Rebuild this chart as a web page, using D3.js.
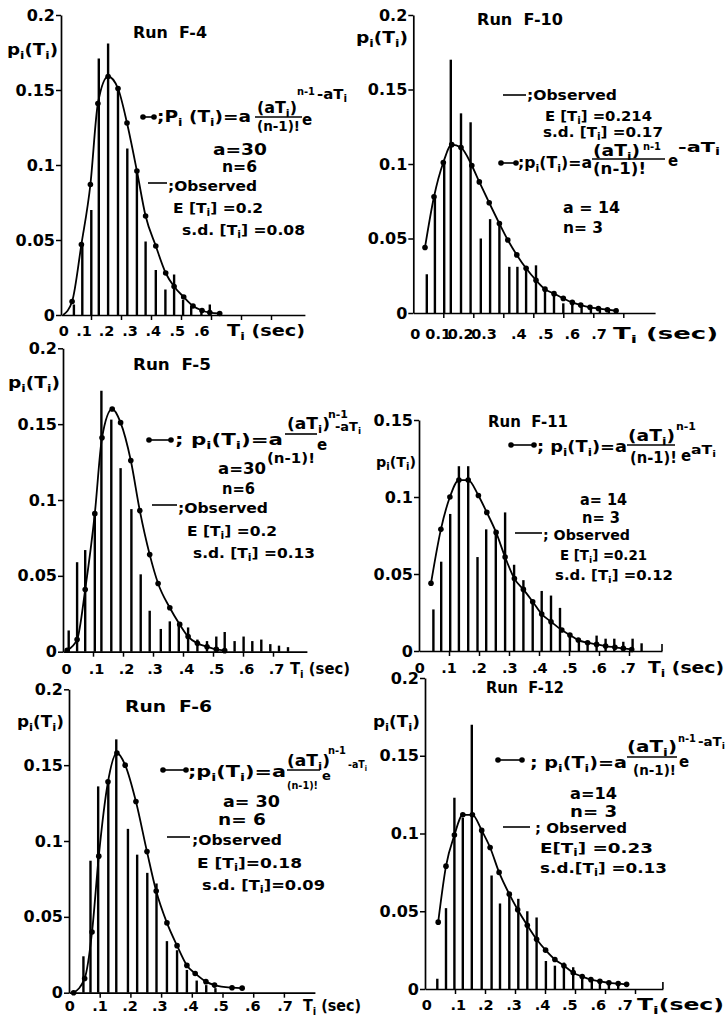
<!DOCTYPE html>
<html><head><meta charset="utf-8">
<script src="https://cdn.jsdelivr.net/npm/d3@7"></script>
<style>body{margin:0;background:#fff}svg{display:block}text{white-space:pre}</style>
</head><body><svg id="c" width="727" height="1019"></svg>
<script>
// ---------------- DATA ----------------
// Run F-4
const f4BarT = [0.043,0.071,0.101,0.126,0.157,0.19,0.221,0.253,0.282,0.316,0.348,0.377,0.407,0.434,0.468,0.496];
const f4BarP = [0.007,0.047,0.07,0.171,0.181,0.152,0.111,0.095,0.049,0.03,0.017,0.027,0.01,0.006,0.004,0.007];
const f4CurveT = [0.007,0.037,0.068,0.098,0.123,0.157,0.19,0.22,0.253,0.282,0.316,0.349,0.377,0.409,0.44,0.47,0.496,0.529];
const f4CurveP = [0,0.009,0.047,0.087,0.141,0.159,0.151,0.128,0.096,0.066,0.046,0.028,0.019,0.012,0.006,0.003,0.0016,0.001];
const f4Labels = ["0",".1",".2",".3",".4",".5",".6"];
const f4LabelT = [0.009,0.077,0.152,0.23,0.308,0.388,0.469];

// Run F-10
const f10BarT = [0.045,0.072,0.103,0.125,0.159,0.191,0.225,0.256,0.287,0.32,0.347,0.376,0.409,0.439,0.469,0.5,0.53,0.561,0.592,0.622,0.652,0.678];
const f10BarP = [0.026,0.078,0.1,0.17,0.134,0.128,0.05,0.063,0.06,0.031,0.031,0.03,0.032,0.016,0.013,0.0065,0.0075,0.005,0.004,0.004,0.003,0.003];
const f10CurveT = [0.039,0.069,0.1,0.128,0.159,0.195,0.22,0.253,0.287,0.315,0.345,0.376,0.409,0.439,0.469,0.5,0.53,0.558,0.589,0.617,0.647,0.676];
const f10CurveP = [0.044,0.078,0.101,0.113,0.111,0.099,0.088,0.074,0.06,0.049,0.039,0.03,0.022,0.016,0.013,0.0098,0.0071,0.0053,0.0038,0.003,0.0022,0.0015];
const f10Labels = ["0","0.1","0.2","0.3",".4",".5",".6",".7"];
const f10LabelT = [0.007,0.083,0.158,0.236,0.352,0.442,0.53,0.619];

// Run F-5
const f5BarT = [0.019,0.047,0.074,0.106,0.128,0.161,0.192,0.228,0.259,0.289,0.326,0.356,0.386,0.417,0.448,0.48,0.511,0.539,0.572,0.602,0.631,0.661,0.691,0.72,0.75];
const f5BarP = [0.014,0.059,0.067,0.091,0.172,0.153,0.121,0.094,0.051,0.027,0.015,0.02,0.018,0.016,0.008,0.007,0.01,0.013,0.007,0.01,0.007,0.008,0.005,0.004,0.003];
const f5CurveT = [0.014,0.047,0.074,0.106,0.13,0.164,0.192,0.226,0.256,0.289,0.317,0.356,0.389,0.417,0.448,0.48,0.511,0.539];
const f5CurveP = [0.001,0.008,0.041,0.091,0.141,0.16,0.151,0.126,0.093,0.064,0.045,0.029,0.018,0.01,0.0055,0.0033,0.0015,0.0007];
const f5Labels = ["0",".1",".2",".3",".4",".5",".6",".7"];
const f5LabelT = [0.012,0.112,0.212,0.307,0.412,0.512,0.612,0.712];

// Run F-11
const f11BarT = [0.048,0.074,0.104,0.133,0.164,0.195,0.224,0.256,0.287,0.317,0.348,0.379,0.409,0.44,0.47,0.503,0.533,0.562,0.592,0.622,0.651,0.681,0.712,0.742];
const f11BarP = [0.027,0.058,0.089,0.12,0.12,0.061,0.079,0.076,0.09,0.056,0.046,0.031,0.039,0.036,0.028,0.01,0.008,0.006,0.01,0.008,0.008,0.006,0.008,0.005];
const f11CurveT = [0.04,0.073,0.103,0.133,0.164,0.198,0.226,0.257,0.287,0.318,0.348,0.379,0.409,0.44,0.476,0.503,0.531,0.562,0.592,0.622,0.653,0.681,0.709];
const f11CurveP = [0.044,0.079,0.1,0.111,0.111,0.101,0.09,0.077,0.061,0.047,0.04,0.032,0.024,0.019,0.0136,0.0104,0.0071,0.0054,0.0043,0.0032,0.0024,0.0017,0.001];
const f11Labels = ["0",".1",".2",".3",".4",".5",".6",".7"];
const f11LabelT = [0.003,0.1,0.2,0.303,0.403,0.503,0.6,0.697];

// Run F-6
const f6BarT = [0.047,0.07,0.095,0.128,0.154,0.192,0.222,0.255,0.285,0.319,0.352,0.384,0.416,0.447,0.477];
const f6BarP = [0.024,0.087,0.136,0.14,0.167,0.108,0.091,0.079,0.072,0.034,0.028,0.015,0.008,0.005,0.003];
const f6CurveT = [0.015,0.051,0.075,0.097,0.127,0.156,0.183,0.218,0.254,0.284,0.319,0.352,0.384,0.411,0.446,0.474,0.531,0.564];
const f6CurveP = [0,0.0094,0.04,0.09,0.139,0.158,0.15,0.126,0.093,0.067,0.046,0.031,0.018,0.0127,0.0073,0.005,0.0033,0.003];
const f6Labels = ["0",".1",".2",".3",".4",".5",".6",".7"];
const f6LabelT = [0.003,0.101,0.199,0.296,0.397,0.495,0.599,0.704];

// Run F-12
const f12BarT = [0.041,0.07,0.098,0.126,0.156,0.189,0.222,0.25,0.281,0.311,0.341,0.372,0.403,0.433,0.463,0.494,0.524,0.556,0.583,0.613,0.644];
const f12BarP = [0.0066,0.052,0.123,0.11,0.17,0.102,0.073,0.055,0.06,0.058,0.05,0.046,0.018,0.015,0.017,0.014,0.008,0.006,0.005,0.004,0.003];
const f12CurveT = [0.044,0.07,0.098,0.126,0.158,0.189,0.217,0.247,0.281,0.309,0.341,0.372,0.402,0.433,0.463,0.494,0.524,0.553,0.583,0.613,0.644,0.672];
const f12CurveP = [0.043,0.079,0.099,0.112,0.112,0.102,0.091,0.075,0.061,0.051,0.041,0.032,0.025,0.019,0.015,0.0105,0.008,0.006,0.005,0.004,0.0035,0.003];
const f12Labels = ["0",".1",".2",".3",".4",".5",".6",".7"];
const f12LabelT = [0.006,0.111,0.203,0.297,0.392,0.483,0.578,0.667];

const yTickVals = [0,0.05,0.1,0.15,0.2];
const yTickText = {"0":"0","0.05":"0.05","0.1":"0.1","0.15":"0.15","0.2":"0.2"};
const xTickVals = [0.1,0.2,0.3,0.4,0.5,0.6,0.7];

// ---------------- LAYOUT ----------------
const FONT = "'DejaVu Sans', Verdana, sans-serif";
const panels = [
 {x0:61, pps:300, xEnd:0.813, yZero:315, yTopPx:15, yTop:0.2, endTick:false,
  barT:f4BarT, barP:f4BarP, cT:f4CurveT, cP:f4CurveP, dotFrom:1, lab:f4Labels, labT:f4LabelT, labY:336,
  ann:[
   {t:"Run  F-4",x:133,y:38,s:15,w:74},
   {t:"p_i(T_i)",x:7,y:55,s:16,w:51},
   {m:[143,154,117]},
   {t:";P_i (T_i)=a",x:157,y:122,s:16,w:94},
   {t:"(aT_i)",x:257,y:113,s:15,w:40},
   {l:[255,302,117]},
   {t:"(n-1)!",x:257,y:131,s:14,w:43},
   {t:"e",x:302,y:125,s:15},
   {t:"n-1",x:297,y:95,s:11,w:18},
   {t:"-aT_i",x:317,y:99,s:14,w:30},
   {t:"a=30",x:213,y:155,s:15,w:54},
   {t:"n=6",x:222,y:172,s:15,w:35},
   {l:[148,167,183]},
   {t:";Observed",x:168,y:191,s:14.5,w:89},
   {t:"E [T_i] =0.2",x:173,y:213,s:14.5,w:90},
   {t:"s.d. [T_i] =0.08",x:182,y:235,s:14.5,w:123},
   {t:"T_i (sec)",x:227,y:336,s:16,w:78}
  ]},
 {x0:413.3, pps:300, xEnd:0.806, yZero:313, yTopPx:15, yTop:0.2, endTick:false,
  barT:f10BarT, barP:f10BarP, cT:f10CurveT, cP:f10CurveP, dotFrom:0, lab:f10Labels, labT:f10LabelT, labY:339,
  ann:[
   {t:"Run  F-10",x:477,y:25,s:15,w:86},
   {t:"p_i(T_i)",x:356,y:43,s:16,w:52},
   {l:[503,526,95]},
   {t:";Observed",x:527,y:100,s:14.5,w:90},
   {t:"E [T_i] =0.214",x:545,y:121,s:14.5,w:107},
   {t:"s.d. [T_i] =0.17",x:543,y:137,s:14,w:120},
   {m:[501,516,163]},
   {t:";p_i(T_i)=a",x:518,y:168,s:15,w:74},
   {t:"(aT_i)",x:593,y:156,s:15,w:47},
   {t:"n-1",x:643,y:150,s:10,w:18},
   {l:[592,665,159]},
   {t:"(n-1)!",x:593,y:174,s:15,w:53},
   {t:"e",x:668,y:166,s:15},
   {t:"-aT_i",x:678,y:152,s:14,w:42},
   {t:"a = 14",x:563,y:213,s:15,w:57},
   {t:"n= 3",x:563,y:233,s:15,w:40},
   {t:"T_i (sec)",x:613,y:339,s:16,w:105}
  ]},
 {x0:63, pps:300, xEnd:0.813, yZero:651.7, yTopPx:348.3, yTop:0.2, endTick:false,
  barT:f5BarT, barP:f5BarP, cT:f5CurveT, cP:f5CurveP, dotFrom:0, lab:f5Labels, labT:f5LabelT, labY:674,
  ann:[
   {t:"Run  F-5",x:133,y:370,s:15,w:78},
   {t:"p_i(T_i)",x:8,y:388,s:16,w:52},
   {m:[149,171,440]},
   {t:"; p_i(T_i)=a",x:175,y:445,s:15,w:108},
   {t:"(aT_i)",x:287,y:429,s:15,w:43},
   {t:"n-1",x:328,y:418,s:11,w:20},
   {t:"-aT_i",x:335,y:431,s:13,w:26},
   {l:[285,317,434]},
   {t:"e",x:317,y:450,s:15},
   {t:"(n-1)!",x:267,y:463,s:14,w:48},
   {t:"a=30",x:218,y:474,s:15,w:48},
   {t:"n=6",x:222,y:494,s:15,w:33},
   {l:[152,177,505]},
   {t:";Observed",x:178,y:513,s:14.5,w:90},
   {t:"E [T_i] =0.2",x:187,y:536,s:14.5,w:90},
   {t:"s.d. [T_i] =0.13",x:193,y:558,s:14.5,w:122},
   {t:"T_i (sec)",x:290,y:674,s:16,w:60}
  ]},
 {x0:419, pps:300, xEnd:0.81, yZero:651, yTopPx:420, yTop:0.15, endTick:true,
  barT:f11BarT, barP:f11BarP, cT:f11CurveT, cP:f11CurveP, dotFrom:0, lab:f11Labels, labT:f11LabelT, labY:673,
  ann:[
   {t:"Run  F-11",x:488,y:427,s:15,w:80},
   {t:"p_i(T_i)",x:376,y:467,s:14,w:40},
   {m:[511,534,445]},
   {t:"; p_i(T_i)=a",x:537,y:452,s:15,w:90},
   {t:"(aT_i)",x:628,y:441,s:15,w:47},
   {t:"n-1",x:676,y:430,s:11,w:20},
   {l:[627,675,445]},
   {t:"(n-1)!",x:630,y:463,s:15,w:47},
   {t:"e",x:681,y:461,s:15},
   {t:"aT_i",x:691,y:454,s:13,w:25},
   {t:"a= 14",x:580,y:505,s:15,w:47},
   {t:"n= 3",x:582,y:523,s:15,w:38},
   {l:[515,542,533]},
   {t:"; Observed",x:543,y:540,s:14,w:87},
   {t:"E [T_i] =0.21",x:560,y:560,s:13.5,w:87},
   {t:"s.d. [T_i] =0.12",x:555,y:580,s:13.5,w:118},
   {t:"T_i (sec)",x:648,y:673,s:16,w:76}
  ]},
 {x0:69, pps:307, xEnd:0.801, yZero:992.7, yTopPx:689.3, yTop:0.2, endTick:false,
  barT:f6BarT, barP:f6BarP, cT:f6CurveT, cP:f6CurveP, dotFrom:0, lab:f6Labels, labT:f6LabelT, labY:1011,
  ann:[
   {t:"Run  F-6",x:125,y:712,s:15,w:87},
   {t:"p_i(T_i)",x:17,y:727,s:16,w:47},
   {m:[163,186,770]},
   {t:";p_i(T_i)=a",x:188,y:777,s:15,w:98},
   {t:"(aT_i)",x:287,y:766,s:15,w:43},
   {t:"n-1",x:328,y:754,s:10,w:18},
   {t:"-aT_i",x:348,y:768,s:11,w:19},
   {l:[287,320,770]},
   {t:"(n-1)!",x:287,y:789,s:11,w:31},
   {t:"e",x:322,y:780,s:13},
   {t:"a= 30",x:223,y:807,s:15,w:57},
   {t:"n= 6",x:218,y:825,s:15,w:48},
   {l:[167,190,837]},
   {t:";Observed",x:192,y:845,s:14.5,w:90},
   {t:"E [T_i]=0.18",x:197,y:868,s:14.5,w:105},
   {t:"s.d. [T_i]=0.09",x:202,y:890,s:14.5,w:123},
   {t:"T_i (sec)",x:303,y:1011,s:15,w:58}
  ]},
 {x0:425, pps:300, xEnd:0.793, yZero:989, yTopPx:678, yTop:0.2, endTick:true,
  barT:f12BarT, barP:f12BarP, cT:f12CurveT, cP:f12CurveP, dotFrom:0, lab:f12Labels, labT:f12LabelT, labY:1010,
  ann:[
   {t:"Run  F-12",x:486,y:693,s:15,w:78},
   {t:"p_i(T_i)",x:373,y:727,s:16,w:47},
   {m:[498,522,760]},
   {t:"; p_i(T_i)=a",x:530,y:768,s:15,w:97},
   {t:"(aT_i)",x:627,y:752,s:15,w:50},
   {t:"n-1",x:678,y:742,s:11,w:18},
   {t:"-aT_i",x:698,y:746,s:13,w:27},
   {l:[627,677,757]},
   {t:"(n-1)!",x:633,y:775,s:14,w:43},
   {t:"e",x:679,y:767,s:15},
   {t:"a=14",x:570,y:799,s:15,w:47},
   {t:"n= 3",x:570,y:817,s:15,w:47},
   {l:[503,530,827]},
   {t:"; Observed",x:535,y:833,s:14.5,w:92},
   {t:"E[T_i] =0.23",x:540,y:853,s:14.5,w:113},
   {t:"s.d.[T_i] =0.13",x:540,y:873,s:14.5,w:127},
   {t:"T_i(sec)",x:637,y:1010,s:16,w:87}
  ]}
];

// ---------------- DRAW ----------------
const svg = d3.select("#c");
svg.append("rect").attr("width",727).attr("height",1019).attr("fill","#fff");

function rich(sel, x, y, s, size, w) {
  const t = sel.append("text").attr("x",x).attr("y",y).attr("font-size",size)
    .attr("font-family",FONT).attr("font-weight","bold").attr("fill","#000");
  const re = /_(\{[^}]*\}|.)|\^(\{[^}]*\}|.)/g;
  let last = 0, cur = 0, m;
  const add = (txt, off, fs) => {
    const ts = t.append("tspan").text(txt).attr("dy", off - cur);
    if (fs) ts.attr("font-size", fs);
    cur = off;
  };
  while ((m = re.exec(s))) {
    if (m.index > last) add(s.slice(last, m.index), 0);
    const sub = m[1] !== undefined;
    let txt = sub ? m[1] : m[2];
    if (txt[0] === "{") txt = txt.slice(1, -1);
    add(txt, sub ? size * 0.24 : -size * 0.38, size * 0.7);
    last = re.lastIndex;
  }
  if (last < s.length) add(s.slice(last), 0);
  if (w) t.attr("textLength", w).attr("lengthAdjust", "spacingAndGlyphs");
  return t;
}

panels.forEach(p => {
  const g = svg.append("g");
  const x = d3.scaleLinear().domain([0, p.xEnd]).range([p.x0, p.x0 + p.pps * p.xEnd]);
  const y = d3.scaleLinear().domain([0, p.yTop]).range([p.yZero, p.yTopPx]);

  // x axis
  const xa = g.append("g").attr("transform", `translate(0,${p.yZero})`)
    .call(d3.axisBottom(x).tickValues(xTickVals.filter(v => v < p.xEnd)).tickSize(5).tickSizeOuter(0).tickFormat(""));
  xa.select(".domain").attr("stroke-width", 1.7);
  xa.selectAll(".tick line").attr("stroke-width", 1.5);
  if (p.endTick) g.append("line").attr("x1", x(p.xEnd)).attr("x2", x(p.xEnd))
      .attr("y1", p.yZero).attr("y2", p.yZero - 7).attr("stroke", "#000").attr("stroke-width", 1.6);

  // y axis
  const ya = g.append("g").attr("transform", `translate(${p.x0},0)`)
    .call(d3.axisLeft(y).tickValues(yTickVals.filter(v => v <= p.yTop + 1e-9)).tickSize(5).tickSizeOuter(0).tickPadding(1)
      .tickFormat(v => yTickText[String(v)]));
  ya.select(".domain").attr("stroke-width", 1.7);
  ya.selectAll(".tick line").attr("stroke-width", 1.5);
  ya.selectAll(".tick text").attr("font-family", FONT).attr("font-weight", "bold").attr("font-size", 16).attr("fill", "#000");

  // x tick labels (placed where printed)
  p.lab.forEach((lb, i) => {
    g.append("text").attr("x", x(p.labT[i])).attr("y", p.labY).attr("text-anchor", "middle")
      .attr("font-family", FONT).attr("font-weight", "bold").attr("font-size", 14.5).text(lb);
  });

  // observed bars
  g.selectAll("line.bar").data(p.barT.map((t, i) => [t, p.barP[i]])).enter().append("line")
    .attr("class", "bar").attr("x1", d => x(d[0])).attr("x2", d => x(d[0]))
    .attr("y1", y(0)).attr("y2", d => y(d[1])).attr("stroke", "#000").attr("stroke-width", 2.4);

  // theoretical curve
  const pts = p.cT.map((t, i) => [t, p.cP[i]]);
  g.append("path").datum(pts).attr("fill", "none").attr("stroke", "#000").attr("stroke-width", 1.8)
    .attr("d", d3.line().x(d => x(d[0])).y(d => y(d[1])).curve(d3.curveMonotoneX));
  g.selectAll("circle.pt").data(pts.slice(p.dotFrom)).enter().append("circle").attr("class", "pt")
    .attr("cx", d => x(d[0])).attr("cy", d => y(d[1])).attr("r", 2.8).attr("fill", "#000");

  // annotations
  p.ann.forEach(a => {
    if (a.t !== undefined) rich(g, a.x, a.y, a.t, a.s, a.w);
    else if (a.l) g.append("line").attr("x1", a.l[0]).attr("x2", a.l[1]).attr("y1", a.l[2]).attr("y2", a.l[2])
      .attr("stroke", "#000").attr("stroke-width", 1.6);
    else if (a.m) {
      g.append("line").attr("x1", a.m[0]).attr("x2", a.m[1]).attr("y1", a.m[2]).attr("y2", a.m[2])
        .attr("stroke", "#000").attr("stroke-width", 1.6);
      [a.m[0], a.m[1]].forEach(cx => g.append("circle").attr("cx", cx).attr("cy", a.m[2]).attr("r", 2.8).attr("fill", "#000"));
    }
  });
});
</script></body></html>
